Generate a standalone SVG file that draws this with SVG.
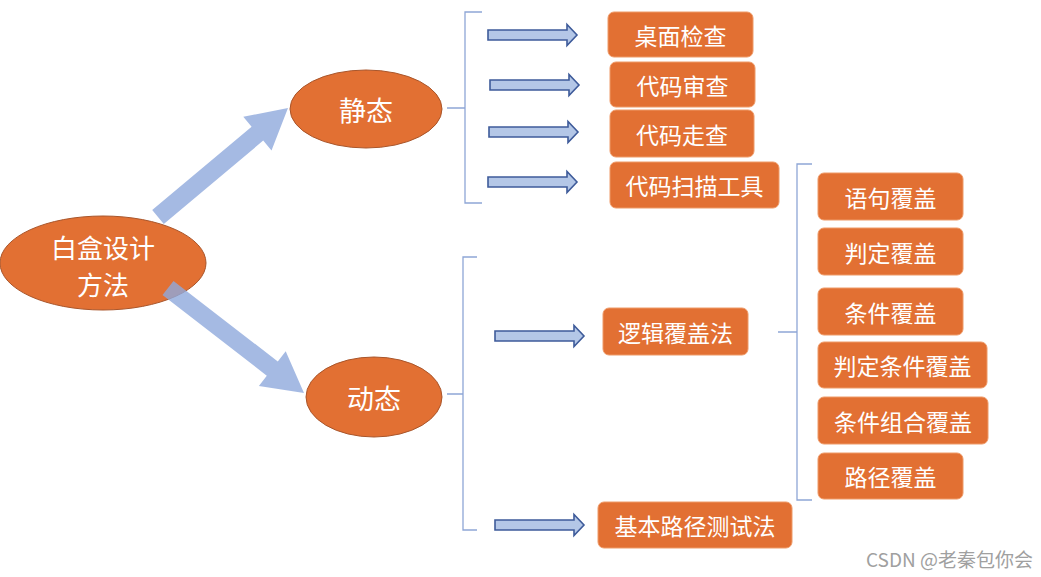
<svg xmlns="http://www.w3.org/2000/svg" xmlns:xlink="http://www.w3.org/1999/xlink" width="1041" height="577" viewBox="0 0 1041 577">
<style>
.ell{fill:#E27033;stroke:#A9552A;stroke-width:1;}
.box{fill:#E27033;stroke:#EE9A68;stroke-width:1;}
.t{fill:#FFFFFF;font-family:"Noto Sans CJK SC","Noto Sans",sans-serif;text-anchor:middle;dominant-baseline:central;}
.tb{font-size:23px;}
.te{font-size:27px;}
.tr{font-size:26px;}
.br{fill:none;stroke:#8EA6D6;stroke-width:1.3;}
.big{fill:#8FA9DC;opacity:0.8;}
.sa{fill:#B4C7E7;stroke:#3E5B9A;stroke-width:1.6;}
.wm{fill:#A0A0A0;font-family:"Noto Sans CJK SC","Liberation Sans",sans-serif;font-size:19px;}
</style>
<defs>
<path id="sa" d="M0,-5 H79 V-10.5 L89,0 L79,10.5 V5 H0 Z"/>
</defs>
<rect x="0" y="0" width="1041" height="577" fill="#FFFFFF"/>

<g id="root">
<ellipse class="ell" cx="103" cy="263" rx="103" ry="47"/>
<text class="t tr" x="103" y="246">白盒设计</text>
<text class="t tr" x="103" y="283">方法</text>
</g>

<g id="connectors">
<polygon class="big" points="152.2,210.1 251.6,126.8 243.3,116.8 288,108 271.5,150.6 263.2,140.6 163.8,223.9"/>
<polygon class="big" points="173.5,280.9 277.8,361.5 285.7,351.2 304,393 258.9,386 266.8,375.7 162.5,295.1"/>
<path class="br" d="M447,108 H465 M482,12 H465 V203 H482"/>
<path class="br" d="M447,394 H463 M477,257 H463 V530 H477"/>
<path class="br" d="M778,332 H797 M812,164 H797 V500 H812"/>
<use class="sa" xlink:href="#sa" x="488" y="35"/>
<use class="sa" xlink:href="#sa" x="490" y="85"/>
<use class="sa" xlink:href="#sa" x="489" y="132"/>
<use class="sa" xlink:href="#sa" x="488" y="182"/>
<use class="sa" xlink:href="#sa" x="495" y="336"/>
<use class="sa" xlink:href="#sa" x="495" y="525"/>
</g>

<g id="static">
<ellipse class="ell" cx="366" cy="109" rx="76" ry="39"/>
<text class="t te" x="366" y="109">静态</text>
</g>
<g id="dynamic">
<ellipse class="ell" cx="374" cy="397" rx="68" ry="40"/>
<text class="t te" x="374" y="397">动态</text>
</g>

<g id="desk-check"><rect class="box" x="608" y="12" width="145" height="45" rx="6"/><text class="t tb" x="680.5" y="35">桌面检查</text></g>
<g id="code-review"><rect class="box" x="610" y="62" width="145" height="45" rx="6"/><text class="t tb" x="682.5" y="85">代码审查</text></g>
<g id="code-walk"><rect class="box" x="610" y="110" width="144" height="47" rx="6"/><text class="t tb" x="682" y="134">代码走查</text></g>
<g id="code-scan"><rect class="box" x="610" y="162" width="169" height="46" rx="6"/><text class="t tb" x="694.5" y="185">代码扫描工具</text></g>

<g id="logic-cover"><rect class="box" x="603" y="308" width="145" height="47" rx="6"/><text class="t tb" x="675.5" y="332">逻辑覆盖法</text></g>
<g id="basic-path"><rect class="box" x="598" y="502" width="194" height="46" rx="6"/><text class="t tb" x="695" y="525">基本路径测试法</text></g>

<g id="stmt-cover"><rect class="box" x="818" y="173" width="145" height="47" rx="6"/><text class="t tb" x="890.5" y="197">语句覆盖</text></g>
<g id="decision-cover"><rect class="box" x="818" y="228" width="145" height="47" rx="6"/><text class="t tb" x="890.5" y="252">判定覆盖</text></g>
<g id="cond-cover"><rect class="box" x="818" y="288" width="145" height="47" rx="6"/><text class="t tb" x="890.5" y="312">条件覆盖</text></g>
<g id="dc-cover"><rect class="box" x="818" y="342" width="169" height="46" rx="6"/><text class="t tb" x="902.5" y="365">判定条件覆盖</text></g>
<g id="combo-cover"><rect class="box" x="818" y="397" width="170" height="47" rx="6"/><text class="t tb" x="903" y="421">条件组合覆盖</text></g>
<g id="path-cover"><rect class="box" x="818" y="453" width="145" height="46" rx="6"/><text class="t tb" x="890.5" y="476">路径覆盖</text></g>

<text class="wm" x="866" y="567">CSDN @老秦包你会</text>
</svg>
